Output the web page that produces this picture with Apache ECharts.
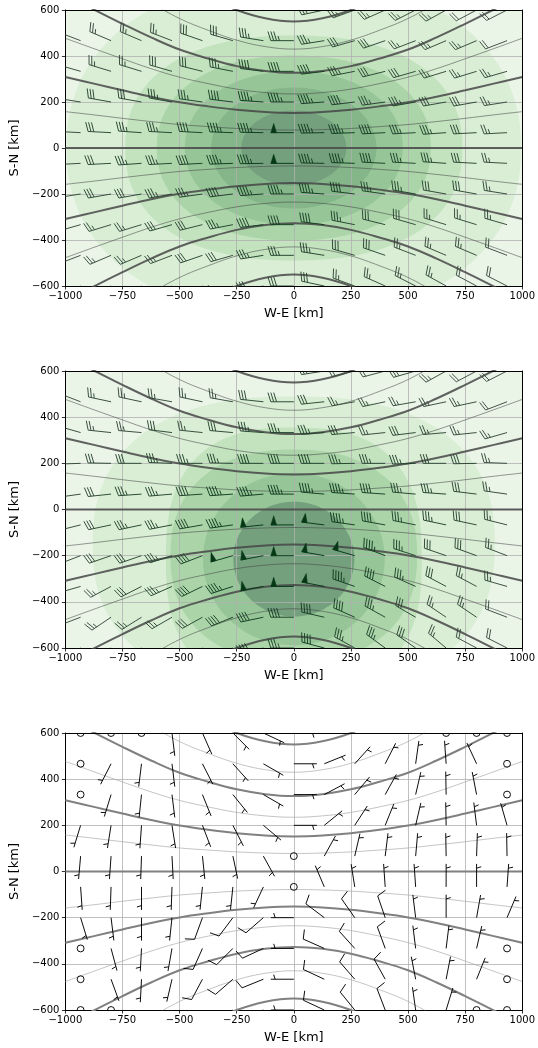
<!DOCTYPE html>
<html><head><meta charset="utf-8">
<script src="https://cdn.jsdelivr.net/npm/echarts@6/dist/echarts.min.js"></script>
<style>html,body{margin:0;padding:0;background:#fff;}#c{width:538px;height:1048px;}</style>
</head><body><div id="c"></div>
<script>
// ---------------- data ----------------
const xTicks = [-1000, -750, -500, -250, 0, 250, 500, 750, 1000];
const yTicks = [-600, -400, -200, 0, 200, 400, 600];
const gridX = [-933.3, -800, -666.7, -533.3, -400, -266.7, -133.3, 0, 133.3, 266.7, 400, 533.3, 666.7, 800, 933.3];
const gridY = [600, 466.7, 333.3, 200, 66.7, -66.7, -200, -333.3, -466.7, -600];

// contour lines (upper branch; lower branch is the same with negative y)
const contourX = [-1000, -875, -750, -625, -500, -375, -250, -125, 0, 125, 250, 375, 500, 625, 750, 875, 1000];
const thick1 = [309, 280, 251, 223, 199, 181, 166, 156, 152, 156, 166, 181, 199, 223, 251, 280, 309];
const thick2 = [664, 602, 540, 481, 428, 389, 356, 335, 327, 335, 356, 389, 428, 481, 540, 602, 664];
const thick3 = [1117, 1012, 908, 809, 721, 655, 600, 564, 550, 564, 600, 655, 721, 809, 908, 1012, 1117];
const thin1 = [158, 144, 129, 115, 102, 93, 85, 80, 78, 80, 85, 93, 102, 115, 129, 144, 158];
const thin2 = [477, 432, 388, 345, 308, 280, 256, 241, 235, 241, 256, 280, 308, 345, 388, 432, 477];
const thin3 = [873, 791, 710, 632, 563, 512, 469, 441, 430, 441, 469, 512, 563, 632, 710, 791, 873];

// filled contour regions: [cx, cy, rx, ry, exponent, level]
const fillColors = ['#eaf5e8', '#d9eed5', '#c3e3bf', '#abd5a9', '#96c698', '#84b689', '#74a07e'];
const fill1 = [[0, 0, 1e5, 1e5, 2, 0], [0, 0, 995, 740, 2.2, 1], [0, 0, 738, 489, 2.3, 2], [0, 0, 600, 402, 2.2, 3],
  [0, 0, 477, 333, 2.1, 4], [0, 0, 362, 263, 2, 5], [0, 0, 230, 163, 2, 6]];
const fill2 = [[0, 0, 1e5, 1e5, 2, 0], [0, -150, 880, 640, 2.4, 1], [0, -215, 560, 570, 2.6, 2], [0, -200, 540, 460, 2.3, 3],
  [0, -215, 398, 373, 2, 4], [0, -215, 265, 249, 2, 6]];

// wind barbs: speed (barb units) and direction the wind blows toward (deg, 0 = east, 90 = north)
const spd1 = [
  [20, 20, 25, 25, 25, 25, 30, 30, 30, 25, 25, 25, 25, 20, 20],
  [20, 25, 25, 25, 30, 30, 35, 35, 35, 30, 30, 25, 25, 25, 20],
  [25, 25, 25, 30, 30, 35, 40, 40, 40, 35, 30, 30, 25, 25, 25],
  [25, 30, 30, 35, 35, 40, 45, 45, 45, 40, 35, 35, 30, 30, 25],
  [25, 30, 35, 35, 40, 45, 45, 50, 45, 45, 40, 35, 35, 30, 25],
  [25, 30, 35, 35, 40, 45, 45, 50, 45, 45, 40, 35, 35, 30, 25],
  [25, 30, 30, 35, 35, 40, 45, 45, 45, 40, 35, 35, 30, 30, 25],
  [25, 25, 25, 30, 30, 35, 40, 40, 40, 35, 30, 30, 25, 25, 25],
  [20, 25, 25, 25, 30, 30, 35, 35, 35, 30, 30, 25, 25, 25, 20],
  [20, 20, 25, 25, 25, 25, 30, 30, 30, 25, 25, 25, 25, 20, 20]];
const dir1 = [
  [-27, -28, -29, -27, -24, -20, -12, 0, 12, 20, 24, 27, 29, 28, 27],
  [-21, -23, -23, -21, -19, -16, -9, 0, 9, 16, 19, 21, 23, 23, 21],
  [-16, -17, -17, -16, -14, -11, -7, 0, 7, 11, 14, 16, 17, 17, 16],
  [-9, -10, -10, -10, -8, -7, -4, 0, 4, 7, 8, 10, 10, 10, 9],
  [-3, -3, -4, -3, -3, -2, -1, 0, 1, 2, 3, 3, 4, 3, 3],
  [3, 3, 4, 3, 3, 2, 1, 0, -1, -2, -3, -3, -4, -3, -3],
  [9, 10, 10, 10, 8, 7, 4, 0, -4, -7, -8, -10, -10, -10, -9],
  [16, 17, 17, 16, 14, 11, 7, 0, -7, -11, -14, -16, -17, -17, -16],
  [21, 23, 23, 21, 19, 16, 9, 0, -9, -16, -19, -21, -23, -23, -21],
  [27, 28, 29, 27, 24, 20, 12, 0, -12, -20, -24, -27, -29, -28, -27]];
const spd2 = [
  [20, 20, 25, 25, 20, 20, 25, 25, 25, 20, 20, 25, 25, 20, 20],
  [20, 25, 25, 25, 25, 25, 30, 30, 30, 25, 25, 25, 25, 25, 20],
  [25, 25, 25, 30, 25, 30, 35, 35, 35, 30, 25, 30, 25, 25, 25],
  [25, 30, 30, 35, 35, 35, 40, 40, 40, 35, 35, 35, 30, 30, 25],
  [25, 30, 35, 35, 40, 45, 45, 45, 45, 45, 40, 35, 35, 30, 25],
  [25, 30, 35, 35, 40, 45, 50, 50, 50, 45, 40, 35, 35, 30, 25],
  [25, 30, 30, 35, 40, 50, 50, 50, 50, 50, 45, 35, 30, 30, 25],
  [25, 25, 30, 35, 40, 45, 50, 50, 50, 45, 40, 35, 30, 25, 25],
  [20, 25, 25, 25, 30, 40, 40, 40, 40, 40, 35, 30, 25, 25, 20],
  [20, 20, 25, 30, 35, 35, 40, 35, 40, 35, 35, 30, 25, 20, 20]];
const dir2 = [
  [-27, -28, -29, -16, -15, -14, -9, 0, 9, 14, 15, 16, 29, 28, 27],
  [-21, -12, -12, -10, -12, -10, -6, 0, 6, 10, 12, 10, 12, 12, 21],
  [-16, -6, -5, -7, -6, -5, -4, 0, 4, 5, 6, 7, 5, 6, 16],
  [2, -1, 0, -2, 0, -1, 0, 0, 0, 1, 0, 2, 0, 1, -2],
  [8, 6, 4, 5, 4, 4, 5, 0, -5, -4, -4, -5, -4, -7, -8],
  [14, 12, 12, 11, 10, 8, 6, 0, -7, -8, -10, -11, -12, -12, -14],
  [21, 19, 19, 18, 21, 16, 11, 0, -10, -16, -21, -18, -19, -20, -21],
  [16, 28, 27, 24, 26, 18, 11, 0, -11, -19, -27, -24, -28, -28, -16],
  [21, 34, 32, 30, 29, 22, 12, 0, -13, -24, -29, -30, -34, -34, -21],
  [27, 28, 40, 35, 34, 26, 14, 0, -15, -29, -36, -35, -40, -28, -27]];
const spd3 = [
  [0, 0, 0, 5, 5, 5, 5, 5, 5, 5, 5, 5, 0, 0, 0],
  [0, 5, 5, 5, 5, 5, 5, 5, 5, 5, 5, 5, 5, 5, 0],
  [0, 5, 5, 5, 5, 5, 5, 5, 5, 5, 5, 5, 5, 5, 0],
  [5, 5, 5, 5, 5, 5, 5, 5, 5, 5, 5, 5, 5, 5, 5],
  [5, 5, 5, 5, 5, 5, 5, 0, 5, 5, 5, 5, 5, 5, 5],
  [5, 5, 5, 5, 5, 5, 5, 0, 5, 5, 5, 5, 5, 5, 5],
  [5, 5, 5, 5, 10, 10, 10, 5, 10, 10, 10, 5, 5, 5, 5],
  [0, 5, 5, 5, 10, 10, 10, 5, 10, 10, 10, 5, 5, 5, 0],
  [0, 5, 5, 5, 10, 10, 10, 5, 10, 10, 10, 5, 5, 5, 0],
  [0, 0, 5, 5, 10, 10, 10, 5, 10, 10, 10, 5, 5, 0, 0]];
const dir3 = [
  [0, 0, 0, 97, 114, 135, 155, 180, 205, 225, 246, 263, 0, 0, 0],
  [0, 63, 83, 97, 117, 132, 150, 180, 202, 228, 243, 262, 274, 295, 0],
  [0, 73, 84, 97, 112, 129, 150, 180, 208, 230, 241, 257, 271, 281, 0],
  [73, 81, 86, 99, 111, 117, 140, 180, 219, 237, 248, 257, 271, 277, 286],
  [85, 86, 88, 93, 96, 102, 119, 0, 241, 257, 263, 265, 271, 268, 271],
  [94, 88, 90, 88, 84, 84, 65, 0, 293, 279, 274, 274, 270, 270, 266],
  [107, 97, 90, 84, 70, 53, 41, 0, 323, 305, 289, 277, 270, 260, 247],
  [0, 105, 87, 80, 66, 45, 25, 0, 336, 312, 290, 277, 263, 257, 0],
  [0, 110, 87, 77, 62, 41, 22, 0, 335, 311, 299, 281, 259, 248, 0],
  [0, 0, 107, 82, 60, 40, 20, 0, 335, 309, 291, 278, 253, 0, 0]];

// ---------------- helpers ----------------
function barbData(S, D) {
  const out = [];
  for (let r = 0; r < gridY.length; r++) for (let c = 0; c < gridX.length; c++) {
    const a = D[r][c] * Math.PI / 180;
    out.push([gridX[c], gridY[r], S[r][c] * Math.cos(a), S[r][c] * Math.sin(a)]);
  }
  return out;
}
function mix(c1, c2, t) {
  const a = [1, 3, 5].map(i => parseInt(c1.substr(i, 2), 16));
  const b = [1, 3, 5].map(i => parseInt(c2.substr(i, 2), 16));
  return 'rgb(' + a.map((v, i) => Math.round(v + (b[i] - v) * t)).join(',') + ')';
}
function clipOf(params) {
  const cs = params.coordSys;
  return {type: 'rect', shape: {x: cs.x, y: cs.y, width: cs.width, height: cs.height}};
}
function barbRenderer(colorFn, lw) {
  return function (params, api) {
    const u = api.value(2), v = api.value(3);
    const p = api.coord([api.value(0), api.value(1)]);
    const L = 23, h = 0.4 * L, fw = 0.25 * L, sp = 0.125 * L;
    const spd = Math.hypot(u, v);
    const col = colorFn(spd);
    const ch = [];
    let mag = 5 * Math.round(spd / 5);
    if (mag < 5) {
      ch.push({type: 'circle', shape: {cx: p[0], cy: p[1], r: 0.15 * L}, style: {fill: 'none', stroke: col, lineWidth: lw}});
    } else {
      const dsx = -u / spd, dsy = v / spd, dtx = -v / spd, dty = -u / spd;
      const P = (s, k) => [p[0] + s * dsx + (k || 0) * dtx, p[1] + s * dsy + (k || 0) * dty];
      const nf = Math.floor(mag / 50); mag -= nf * 50;
      const nb = Math.floor(mag / 10); mag -= nb * 10;
      const half = mag >= 5;
      const tip = P(L);
      ch.push({type: 'line', shape: {x1: p[0], y1: p[1], x2: tip[0], y2: tip[1]}, style: {stroke: col, lineWidth: lw}});
      let s = L;
      for (let i = 0; i < nf; i++) {
        ch.push({type: 'polygon', shape: {points: [P(s), P(s - fw / 2, h), P(s - fw)]}, style: {fill: col, stroke: col, lineWidth: 0.5}});
        s -= fw + sp;
      }
      for (let i = 0; i < nb; i++) {
        const a = P(s), b = P(s + fw / 2, h);
        ch.push({type: 'line', shape: {x1: a[0], y1: a[1], x2: b[0], y2: b[1]}, style: {stroke: col, lineWidth: lw}});
        s -= sp;
      }
      if (half) {
        if (s === L) s -= 1.5 * sp;
        const a = P(s), b = P(s + fw / 4, h / 2);
        ch.push({type: 'line', shape: {x1: a[0], y1: a[1], x2: b[0], y2: b[1]}, style: {stroke: col, lineWidth: lw}});
      }
    }
    return {type: 'group', children: ch, clipPath: clipOf(params)};
  };
}
function fillRenderer(params, api) {
  const cx = api.value(0), cy = api.value(1), rx = api.value(2), ry = api.value(3), n = api.value(4), lv = api.value(5);
  const pts = [];
  for (let i = 0; i < 180; i++) {
    const t = i / 180 * 2 * Math.PI, c = Math.cos(t), s = Math.sin(t);
    pts.push(api.coord([cx + rx * Math.sign(c) * Math.pow(Math.abs(c), 2 / n), cy + ry * Math.sign(s) * Math.pow(Math.abs(s), 2 / n)]));
  }
  return {type: 'group', clipPath: clipOf(params),
    children: [{type: 'polygon', shape: {points: pts}, style: {fill: fillColors[lv], stroke: null}}]};
}

const tops = [10, 371, 733];
const H = [276, 277, 277];
const fontFam = 'DejaVu Sans';
const minus = v => (v < 0 ? '\u2212' + Math.abs(v) : String(v));
const grids = [], xAxes = [], yAxes = [], series = [];

function addPanel(i, fills, barbs, thickCol, thinCol, thickW, barbColor) {
  grids.push({left: 63, width: 461, top: tops[i], height: H[i], containLabel: false});
  const xi = xAxes.length, yi = yAxes.length;
  xAxes.push({gridIndex: i, type: 'value', min: xTicks[0], max: xTicks[xTicks.length - 1], interval: 250, z: 3,
    name: 'W-E [km]', nameLocation: 'middle', nameGap: 21, nameTextStyle: {fontFamily: fontFam, fontSize: 13, color: '#000'},
    axisLine: {show: true, onZero: false, lineStyle: {color: '#000', width: 1}},
    axisTick: {show: true, length: 3.5, lineStyle: {color: '#000', width: 0.8}},
    axisLabel: {fontFamily: fontFam, fontSize: 10, color: '#000', margin: 5, formatter: minus},
    splitLine: {show: true, lineStyle: {color: '#b0b0b0', width: 0.8}}});
  xAxes.push({gridIndex: i, type: 'value', position: 'top', min: -1000, max: 1000, z: 10,
    axisLine: {show: true, onZero: false, lineStyle: {color: '#000', width: 1}},
    axisTick: {show: false}, axisLabel: {show: false}, splitLine: {show: false}});
  yAxes.push({gridIndex: i, type: 'value', min: yTicks[0], max: yTicks[yTicks.length - 1], interval: 200, z: 3,
    name: 'S-N [km]', nameLocation: 'middle', nameGap: 34, nameTextStyle: {fontFamily: fontFam, fontSize: 13, color: '#000'},
    axisLine: {show: true, onZero: false, lineStyle: {color: '#000', width: 1}},
    axisTick: {show: true, length: 3.5, lineStyle: {color: '#000', width: 0.8}},
    axisLabel: {fontFamily: fontFam, fontSize: 10, color: '#000', margin: 6, formatter: minus},
    splitLine: {show: true, lineStyle: {color: '#b0b0b0', width: 0.8}}});
  yAxes.push({gridIndex: i, type: 'value', position: 'right', min: -600, max: 600, z: 10,
    axisLine: {show: true, onZero: false, lineStyle: {color: '#000', width: 1}},
    axisTick: {show: false}, axisLabel: {show: false}, splitLine: {show: false}});
  if (fills) series.push({type: 'custom', xAxisIndex: xi, yAxisIndex: yi, z: 1, silent: true, data: fills, renderItem: fillRenderer});
  const lines = [[thick1, thickW, thickCol], [thick2, thickW, thickCol], [thick3, thickW, thickCol],
    [thin1, 0.7, thinCol], [thin2, 0.7, thinCol], [thin3, 0.7, thinCol]];
  lines.forEach(([arr, w, col]) => {
    [1, -1].forEach(sg => series.push({type: 'line', xAxisIndex: xi, yAxisIndex: yi, z: 4, silent: true, symbol: 'none', smooth: 0.4,
      lineStyle: {color: col, width: w}, data: contourX.map((x, k) => [x, sg * arr[k]])}));
  });
  series.push({type: 'line', xAxisIndex: xi, yAxisIndex: yi, z: 4, silent: true, symbol: 'none',
    lineStyle: {color: thickCol, width: thickW}, data: [[-1000, 0], [1000, 0]]});
  series.push({type: 'custom', xAxisIndex: xi, yAxisIndex: yi, z: 5, silent: true, data: barbs, renderItem: barbRenderer(barbColor, 0.95)});
}
const greenBarb = s => mix('#3c4b3f', '#063817', Math.max(0, Math.min(1, (s - 20) / 30)));
addPanel(0, fill1, barbData(spd1, dir1), 'rgba(70,70,70,0.85)', 'rgba(70,70,70,0.8)', 2, greenBarb);
addPanel(1, fill2, barbData(spd2, dir2), 'rgba(70,70,70,0.85)', 'rgba(70,70,70,0.8)', 2, greenBarb);
addPanel(2, null, barbData(spd3, dir3), '#808080', '#aaaaaa', 2, () => '#000');

const chart = echarts.init(document.getElementById('c'), null, {renderer: 'canvas'});
chart.setOption({animation: false, backgroundColor: '#fff', grid: grids, xAxis: xAxes, yAxis: yAxes, series: series});
</script></body></html>
